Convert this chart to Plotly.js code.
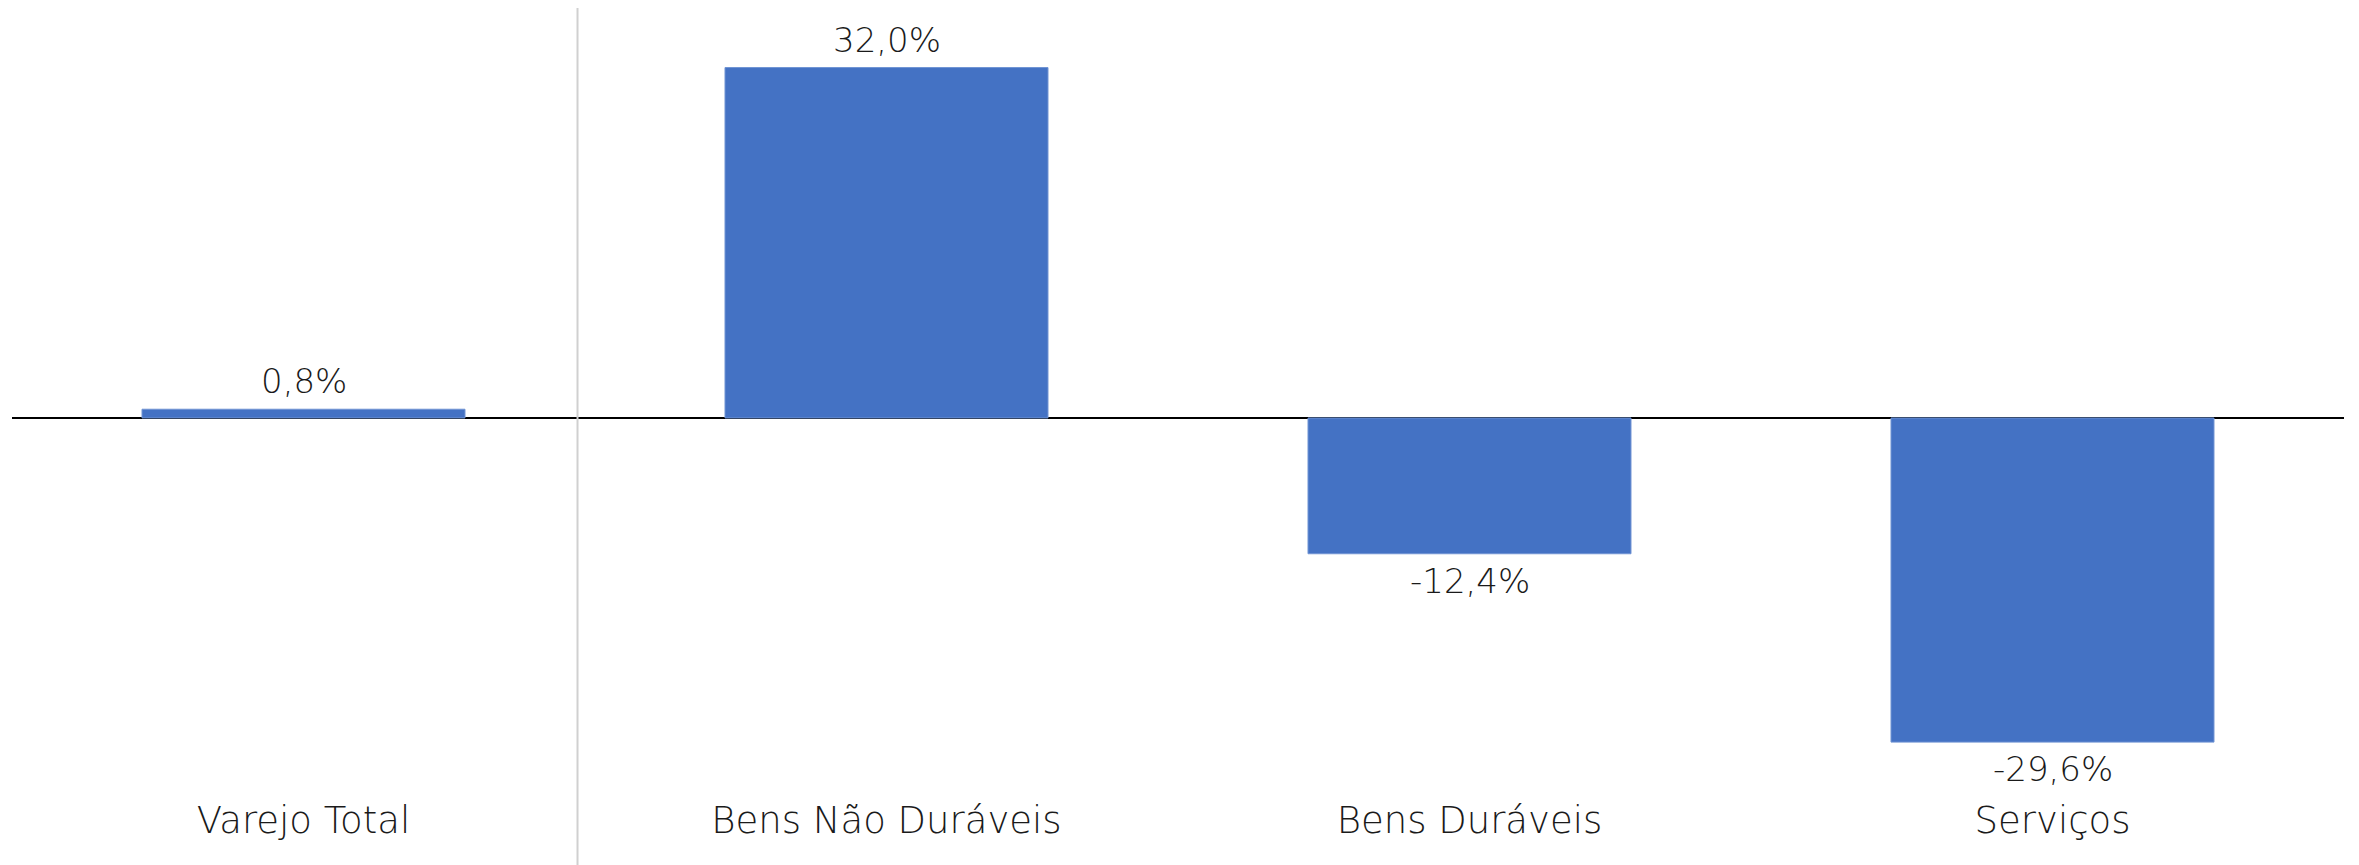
<!DOCTYPE html>
<html>
<head>
<meta charset="utf-8">
<script src="https://cdn.plot.ly/plotly-3.0.1.min.js"></script>
<style>
html,body{margin:0;padding:0;background:#fff;}
#chart{width:2359px;height:865px;}
</style>
</head>
<body>
<div id="chart"></div>
<script>
var categories = ["Varejo Total", "Bens Não Duráveis", "Bens Duráveis", "Serviços"];
var values = [0.8, 32.0, -12.4, -29.6];
var valueLabels = ["0,8%", "32,0%", "-12,4%", "-29,6%"];

var FONT = "DejaVu Sans, sans-serif";

var trace = {
  type: "bar",
  x: categories,
  y: values,
  cliponaxis: false,
  width: 0.554,
  marker: {color: "#4472C4", line: {color: "#6f93d3", width: 1}},
  hoverinfo: "none"
};

var annotations = categories.map(function (c, i) {
  var pos = values[i] >= 0;
  return {
    x: c,
    y: values[i],
    xref: "x",
    yref: "y",
    text: valueLabels[i],
    showarrow: false,
    xanchor: "center",
    yanchor: pos ? "bottom" : "top",
    yshift: pos ? 6 : -5,
    font: {family: FONT, size: 34, color: "#1a1a1a", weight: 200}
  };
});

var layout = {
  width: 2359,
  height: 865,
  margin: {l: 12, r: 15, t: 0, b: 70},
  paper_bgcolor: "#ffffff",
  plot_bgcolor: "#ffffff",
  showlegend: false,
  bargap: 0.446,
  xaxis: {
    type: "category",
    showgrid: false,
    showline: false,
    zeroline: false,
    ticks: "",
    tickfont: {family: FONT, size: 37, color: "#1a1a1a", weight: 200},
    ticklabelstandoff: 0
  },
  yaxis: {
    range: [-34.43, 38.17],
    showgrid: false,
    showticklabels: false,
    showline: false,
    ticks: "",
    zeroline: true,
    zerolinecolor: "#000000",
    zerolinewidth: 2
  },
  annotations: annotations,
  shapes: [{
    type: "line",
    xref: "x",
    yref: "paper",
    x0: 0.47, x1: 0.47,
    y0: -0.1, y1: 0.99,
    line: {color: "#d0d0d0", width: 2}
  }]
};

Plotly.newPlot("chart", [trace], layout, {displayModeBar: false, staticPlot: true});
</script>
</body>
</html>
